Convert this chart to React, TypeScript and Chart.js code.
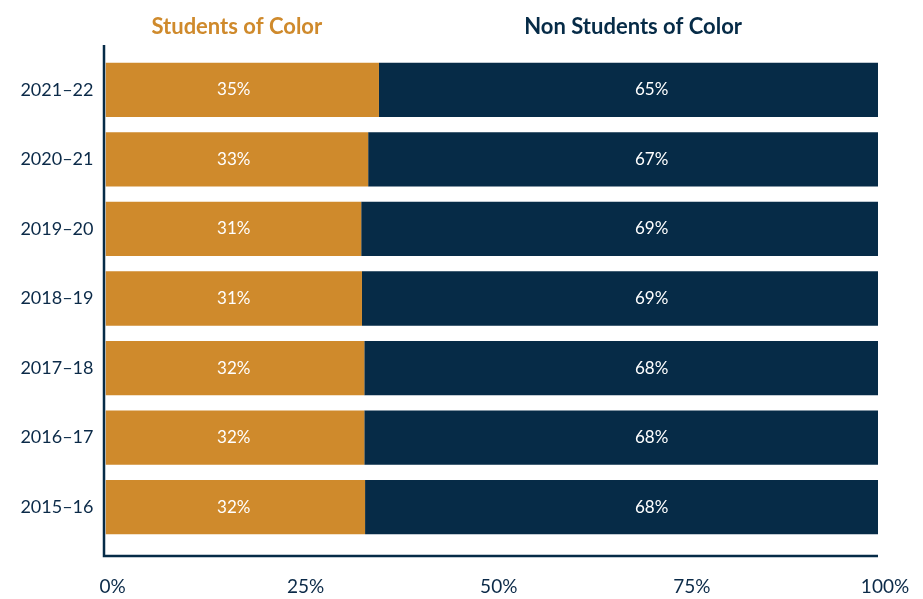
import React, { useEffect, useRef } from 'react';
import { Chart, registerables } from 'chart.js';

Chart.register(...registerables);

// ---- data ----
const years = ['2021–22', '2020–21', '2019–20', '2018–19', '2017–18', '2016–17', '2015–16'];
const studentsOfColor = [35.4, 34.0, 33.1, 33.2, 33.5, 33.5, 33.6];
const nonStudentsOfColor = [64.6, 66.0, 66.9, 66.8, 66.5, 66.5, 66.4];
const studentsOfColorLabels = ['35%', '33%', '31%', '31%', '32%', '32%', '32%'];
const nonStudentsOfColorLabels = ['65%', '67%', '69%', '69%', '68%', '68%', '68%'];
const seriesNames = ['Students of Color', 'Non Students of Color'];
const xTickValues = [0, 25, 50, 75, 100];

// ---- style ----
const ORANGE = '#CF8A2C';
const NAVY = '#062B47';
const TEXT_NAVY = '#0B2A48';
const FONT = 'Lato, "Open Sans", sans-serif';
const labelAnchors = [16.6, 70.7]; // x-scale value where value labels sit
const headerAnchors = [17.0, 68.3]; // x-scale value where header titles sit

const overlayPlugin = {
  id: 'overlay',
  afterDatasetsDraw(chart: any) {
    const { ctx, chartArea, scales } = chart;
    const xs = scales.x;
    ctx.save();
    // axis lines
    ctx.strokeStyle = NAVY;
    ctx.lineWidth = 2.5;
    ctx.beginPath();
    ctx.moveTo(chartArea.left - 1.5, chartArea.top - 10);
    ctx.lineTo(chartArea.left - 1.5, chartArea.bottom + 14);
    ctx.lineTo(chartArea.right, chartArea.bottom + 14);
    ctx.stroke();

    // value labels
    ctx.fillStyle = '#FFFFFF';
    ctx.font = `17px ${FONT}`;
    ctx.textAlign = 'center';
    ctx.textBaseline = 'middle';
    const labelSets = [studentsOfColorLabels, nonStudentsOfColorLabels];
    labelSets.forEach((labels, di) => {
      const meta = chart.getDatasetMeta(di);
      meta.data.forEach((bar: any, i: number) => {
        ctx.fillText(labels[i], xs.getPixelForValue(labelAnchors[di]), bar.y);
      });
    });

    // headers
    ctx.font = `bold 22px ${FONT}`;
    const headerColors = [ORANGE, NAVY];
    seriesNames.forEach((name, i) => {
      ctx.fillStyle = headerColors[i];
      ctx.fillText(name, xs.getPixelForValue(headerAnchors[i]), chartArea.top - 28);
    });
    ctx.restore();
  },
};

export default function App() {
  const canvasRef = useRef<HTMLCanvasElement | null>(null);

  useEffect(() => {
    if (!canvasRef.current) return;
    const chart = new Chart(canvasRef.current, {
      type: 'bar',
      data: {
        labels: years,
        datasets: [
          {
            label: seriesNames[0],
            data: studentsOfColor,
            backgroundColor: ORANGE,
            borderWidth: 0,
            barPercentage: 0.78,
            categoryPercentage: 1,
          },
          {
            label: seriesNames[1],
            data: nonStudentsOfColor,
            backgroundColor: NAVY,
            borderWidth: 0,
            barPercentage: 0.78,
            categoryPercentage: 1,
          },
        ],
      },
      options: {
        indexAxis: 'y',
        animation: false,
        responsive: true,
        maintainAspectRatio: false,
        layout: { padding: { top: 55, right: 45, left: 0, bottom: 0 } },
        plugins: {
          legend: { display: false },
          tooltip: { enabled: false },
        },
        scales: {
          x: {
            stacked: true,
            min: 0,
            max: 100,
            afterBuildTicks: (scale: any) => {
              scale.ticks = xTickValues.map((v) => ({ value: v }));
            },
            afterFit: (scale: any) => {
              scale.height = 57;
              scale.paddingLeft = 0;
              scale.paddingRight = 0;
            },
            grid: { display: false, drawTicks: false },
            border: { display: false },
            ticks: {
              callback: (v: any) => `${v}%`,
              color: TEXT_NAVY,
              font: { family: FONT, size: 19 },
              padding: 33,
              labelOffset: 7,
              maxRotation: 0,
              autoSkip: false,
            },
          },
          y: {
            stacked: true,
            afterFit: (scale: any) => {
              scale.width = 105.5;
            },
            grid: { display: false, drawTicks: false },
            border: { display: false },
            ticks: {
              color: TEXT_NAVY,
              font: { family: FONT, size: 18 },
              padding: 12,
            },
          },
        },
      },
      plugins: [overlayPlugin],
    } as any);
    return () => chart.destroy();
  }, []);

  return (
    <div style={{ position: 'absolute', left: 0, top: 0, width: 923, height: 599, background: '#fff' }}>
      <canvas ref={canvasRef} />
    </div>
  );
}
